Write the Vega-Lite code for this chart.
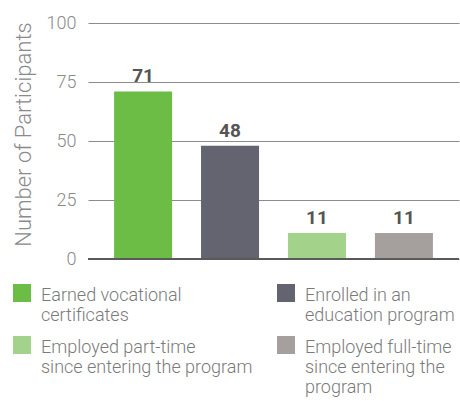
{
  "$schema": "https://vega.github.io/schema/vega-lite/v6.json",
  "width": 371,
  "height": 236,
  "autosize": {"type": "none"},
  "padding": {"left": 88, "top": 23, "right": 1, "bottom": 142},
  "background": "white",
  "config": {
    "view": {"stroke": null},
    "font": "Roboto"
  },
  "data": {
    "values": [
      {"category": "Earned vocational|certificates", "value": 71, "order": 1},
      {"category": "Enrolled in an|education program", "value": 48, "order": 2},
      {"category": "Employed part-time|since entering the program", "value": 11, "order": 3},
      {"category": "Employed full-time|since entering the|program", "value": 11, "order": 4}
    ]
  },
  "encoding": {
    "x": {
      "field": "category",
      "type": "nominal",
      "sort": {"field": "order"},
      "axis": null,
      "scale": {"paddingInner": 0.333, "paddingOuter": 0.3}
    },
    "y": {
      "field": "value",
      "type": "quantitative",
      "scale": {"domain": [0, 100]},
      "axis": {
        "values": [0, 25, 50, 75, 100],
        "title": "Number of Participants",
        "titleFontSize": 22,
        "titleFontWeight": 300,
        "titleColor": "#8a8a8a",
        "titlePadding": 11,
        "titleY": 111,
        "labelFontSize": 18,
        "labelFontWeight": 300,
        "labelColor": "#8a8a8a",
        "labelPadding": 12,
        "ticks": false,
        "domain": false,
        "grid": true,
        "gridColor": "#8c8c8c",
        "gridWidth": 1,
        "gridOpacity": 1
      }
    }
  },
  "layer": [
    {
      "mark": {"type": "bar"},
      "encoding": {
        "color": {
          "field": "category",
          "type": "nominal",
          "sort": {"field": "order"},
          "scale": {
            "range": ["#6bbd45", "#63646f", "#a3d38a", "#a59f9e"]
          },
          "legend": {
            "title": null,
            "orient": "none",
            "legendX": -75,
            "legendY": 269,
            "direction": "horizontal",
            "columns": 2,
            "symbolType": "M-1,-1.89H1V0.11H-1Z",
            "symbolSize": 324,
            "symbolStrokeWidth": 0,
            "labelFontSize": 18,
            "labelFontWeight": 300,
            "labelColor": "#7a7a7a",
            "labelLimit": 400,
            "labelOffset": 10,
            "columnPadding": 24,
            "rowPadding": 10,
            "labelBaseline": "alphabetic",
            "labelExpr": "split(datum.label, '|')"
          }
        }
      }
    },
    {
      "mark": {"type": "rule", "color": "#5a5a5a", "strokeWidth": 2},
      "encoding": {"y": {"datum": 0}, "x": null}
    },
    {
      "mark": {
        "type": "text",
        "dy": -15,
        "fontSize": 19,
        "fontWeight": "bold",
        "color": "#555555"
      },
      "encoding": {"text": {"field": "value", "type": "quantitative"}}
    }
  ]
}
